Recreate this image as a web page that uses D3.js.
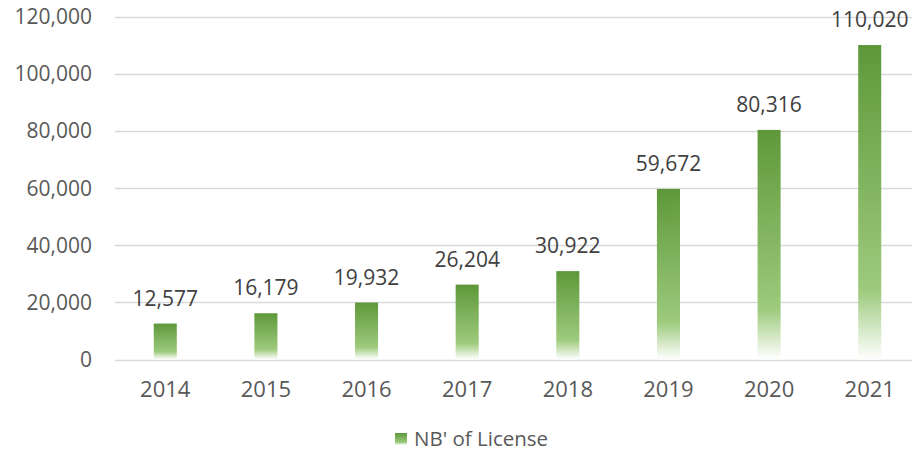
<!DOCTYPE html>
<html>
<head>
<meta charset="utf-8">
<script src="https://cdn.jsdelivr.net/npm/d3@7"></script>
<style>
  body { margin: 0; background: #fff; }
  svg text { font-family: "Open Sans", "Liberation Sans", sans-serif; }
</style>
</head>
<body>
<svg id="chart" width="912" height="451"></svg>
<script>
const years = ["2014", "2015", "2016", "2017", "2018", "2019", "2020", "2021"];
const licenses = [12577, 16179, 19932, 26204, 30922, 59672, 80316, 110020];
const yTicks = [0, 20000, 40000, 60000, 80000, 100000, 120000];
const seriesName = "NB' of License";

const svg = d3.select("#chart");
const width = 912;

// gradient per bar, dark green at top fading to white at the base
const defs = svg.append("defs");
const grad = defs.append("linearGradient")
  .attr("id", "barGrad")
  .attr("x1", 0).attr("y1", 0).attr("x2", 0).attr("y2", 1);
grad.append("stop").attr("offset", "0%").attr("stop-color", "#5e983a");
grad.append("stop").attr("offset", "78%").attr("stop-color", "#9dca7c");
grad.append("stop").attr("offset", "100%").attr("stop-color", "#ffffff");

const x = d3.scaleBand().domain(years).range([115, 920]).paddingInner(0.771).paddingOuter(0.385);
const y = d3.scaleLinear().domain([0, 120000]).range([359.5, 16.5]);

const fmt = d3.format(",");

// gridlines
svg.append("g")
  .selectAll("line")
  .data(yTicks)
  .join("line")
  .attr("x1", 115).attr("x2", width)
  .attr("y1", d => Math.round(y(d)) + 0.5)
  .attr("y2", d => Math.round(y(d)) + 0.5)
  .attr("stroke", "#d9d9d9")
  .attr("stroke-width", 1.3);

// y labels
svg.append("g")
  .selectAll("text")
  .data(yTicks)
  .join("text")
  .attr("x", 92)
  .attr("y", d => y(d) + 7.5)
  .attr("text-anchor", "end")
  .attr("font-size", 21)
  .attr("fill", "#595959")
  .text(d => fmt(d));

// bars
svg.append("g")
  .selectAll("rect")
  .data(licenses)
  .join("rect")
  .attr("x", (d, i) => x(years[i]))
  .attr("y", d => y(d))
  .attr("width", x.bandwidth())
  .attr("height", d => y(0) - y(d))
  .attr("fill", "url(#barGrad)");

// value labels
svg.append("g")
  .selectAll("text")
  .data(licenses)
  .join("text")
  .attr("x", (d, i) => x(years[i]) + x.bandwidth() / 2)
  .attr("y", d => y(d) - 18)
  .attr("text-anchor", "middle")
  .attr("font-size", 21)
  .attr("fill", "#404040")
  .text(d => fmt(d));

// x labels
svg.append("g")
  .selectAll("text")
  .data(years)
  .join("text")
  .attr("x", d => x(d) + x.bandwidth() / 2)
  .attr("y", 397)
  .attr("text-anchor", "middle")
  .attr("font-size", 22)
  .attr("fill", "#595959")
  .text(d => d);

// legend
const legend = svg.append("g").attr("transform", "translate(395,433)");
legend.append("rect")
  .attr("width", 12).attr("height", 12)
  .attr("fill", "url(#barGrad)");
legend.append("text")
  .attr("x", 19).attr("y", 13)
  .attr("font-size", 20.5)
  .attr("fill", "#595959")
  .text(seriesName);
</script>
</body>
</html>
